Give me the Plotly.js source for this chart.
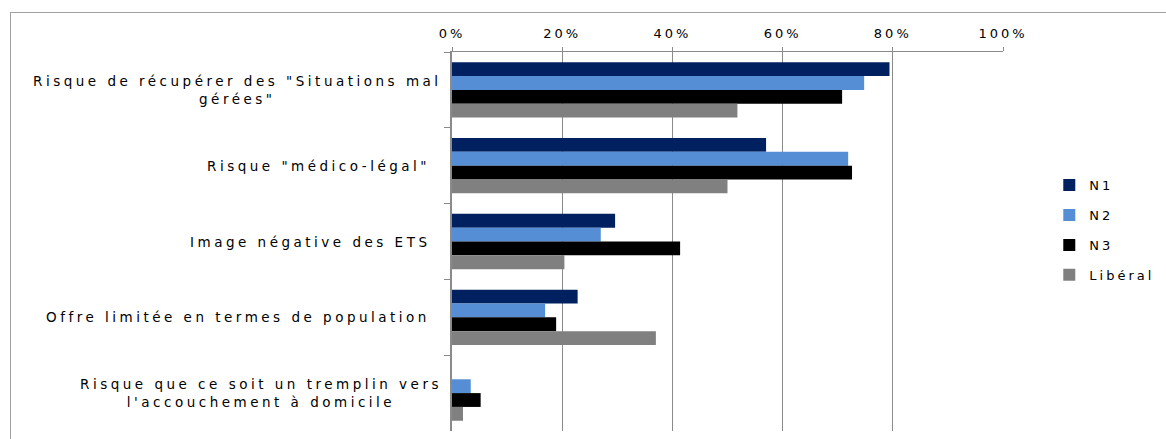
<!DOCTYPE html>
<html>
<head>
<meta charset="utf-8">
<script src="https://cdn.plot.ly/plotly-3.0.1.min.js"></script>
<style>
  html, body { margin: 0; padding: 0; background: #fff; }
  #wrap { position: relative; width: 1166px; height: 439px; overflow: hidden; }
  #chart { width: 1166px; height: 439px; }
  #frame { position: absolute; left: 10px; top: 12px; width: 2000px; height: 2000px;
           border-left: 1px solid #a0a0a0; border-top: 1px solid #a0a0a0; pointer-events: none; }
  .annotation-text { letter-spacing: 3.5px; }
  .xtick text, .legendtext { letter-spacing: 3px; }
</style>
</head>
<body>
<div id="wrap">
  <div id="chart"></div>
  <div id="frame"></div>
</div>
<script>
// Categories (top to bottom) and their displayed labels
var categories = [
  'Risque de récupérer des "Situations mal gérées"',
  'Risque "médico-légal"',
  'Image négative des ETS',
  'Offre limitée en termes de population',
  "Risque que ce soit un tremplin vers l'accouchement à domicile"
];
var categoryLabels = [
  'Risque de récupérer des "Situations mal<br>gérées"',
  'Risque "médico-légal"',
  'Image négative des ETS',
  'Offre limitée en termes de population',
  "Risque que ce soit un tremplin vers<br>l'accouchement à domicile"
];

// Series values (%)
var seriesNames = ['N1', 'N2', 'N3', 'Libéral'];
var valuesN1 = [79.4, 57.0, 29.6, 22.8, 0];
var valuesN2 = [74.8, 71.9, 27.0, 16.9, 3.4];
var valuesN3 = [70.8, 72.6, 41.4, 18.9, 5.2];
var valuesLiberal = [51.8, 50.0, 20.4, 37.0, 2.0];
var seriesColors = ['#002060', '#558ED5', '#000000', '#808080'];

var xTickValues = [0, 20, 40, 60, 80, 100];
var xTickLabels = ['0%', '20%', '40%', '60%', '80%', '100%'];

var allValues = [valuesN1, valuesN2, valuesN3, valuesLiberal];
var FONT = 'DejaVu Sans, sans-serif';

var traces = allValues.map(function (vals, i) {
  return {
    type: 'bar',
    orientation: 'h',
    name: seriesNames[i],
    legendgroup: 'g' + i,
    x: vals,
    y: categories,
    marker: { color: seriesColors[i], line: { width: 0 } },
    hoverinfo: 'x+name'
  };
});

var annotations = categories.map(function (c, i) {
  var multi = categoryLabels[i].indexOf('<br>') >= 0;
  return {
    x: 0, xref: 'paper', xanchor: 'right', xshift: multi ? -8 : -20,
    y: c, yref: 'y', yanchor: 'middle',
    text: categoryLabels[i],
    showarrow: false,
    align: 'center',
    font: { family: FONT, size: 13.5, color: '#000' }
  };
});

var layout = {
  width: 1166,
  height: 439,
  margin: { l: 452, r: 163, t: 52, b: 8, pad: 0, autoexpand: false },
  paper_bgcolor: '#fff',
  plot_bgcolor: '#fff',
  barmode: 'group',
  bargap: 0.27,
  bargroupgap: 0,
  font: { family: FONT, size: 13, color: '#000' },
  xaxis: {
    side: 'top',
    range: [0, 100],
    tickmode: 'array',
    tickvals: xTickValues,
    ticktext: xTickLabels,
    showgrid: true,
    gridcolor: '#8a8a8a',
    gridwidth: 1,
    showline: true,
    linecolor: '#8a8a8a',
    linewidth: 1,
    ticks: 'outside',
    ticklen: 4,
    tickcolor: '#8a8a8a',
    ticklabelstandoff: 4,
    zeroline: false,
    fixedrange: true,
    tickfont: { family: FONT, size: 13, color: '#000' }
  },
  yaxis: {
    type: 'category',
    autorange: 'reversed',
    showticklabels: false,
    ticks: 'outside',
    tickson: 'boundaries',
    ticklen: 6,
    tickcolor: '#8a8a8a',
    showline: true,
    linecolor: '#8a8a8a',
    linewidth: 2,
    showgrid: false,
    zeroline: false,
    fixedrange: true
  },
  showlegend: true,
  legend: {
    x: 1.084, xanchor: 'left',
    y: 0.53, yanchor: 'middle',
    traceorder: 'grouped',
    tracegroupgap: 10,
    bgcolor: 'rgba(0,0,0,0)',
    borderwidth: 0,
    font: { family: FONT, size: 13, color: '#000' }
  },
  annotations: annotations
};

Plotly.newPlot('chart', traces, layout, { displayModeBar: false, staticPlot: true });
</script>
</body>
</html>
